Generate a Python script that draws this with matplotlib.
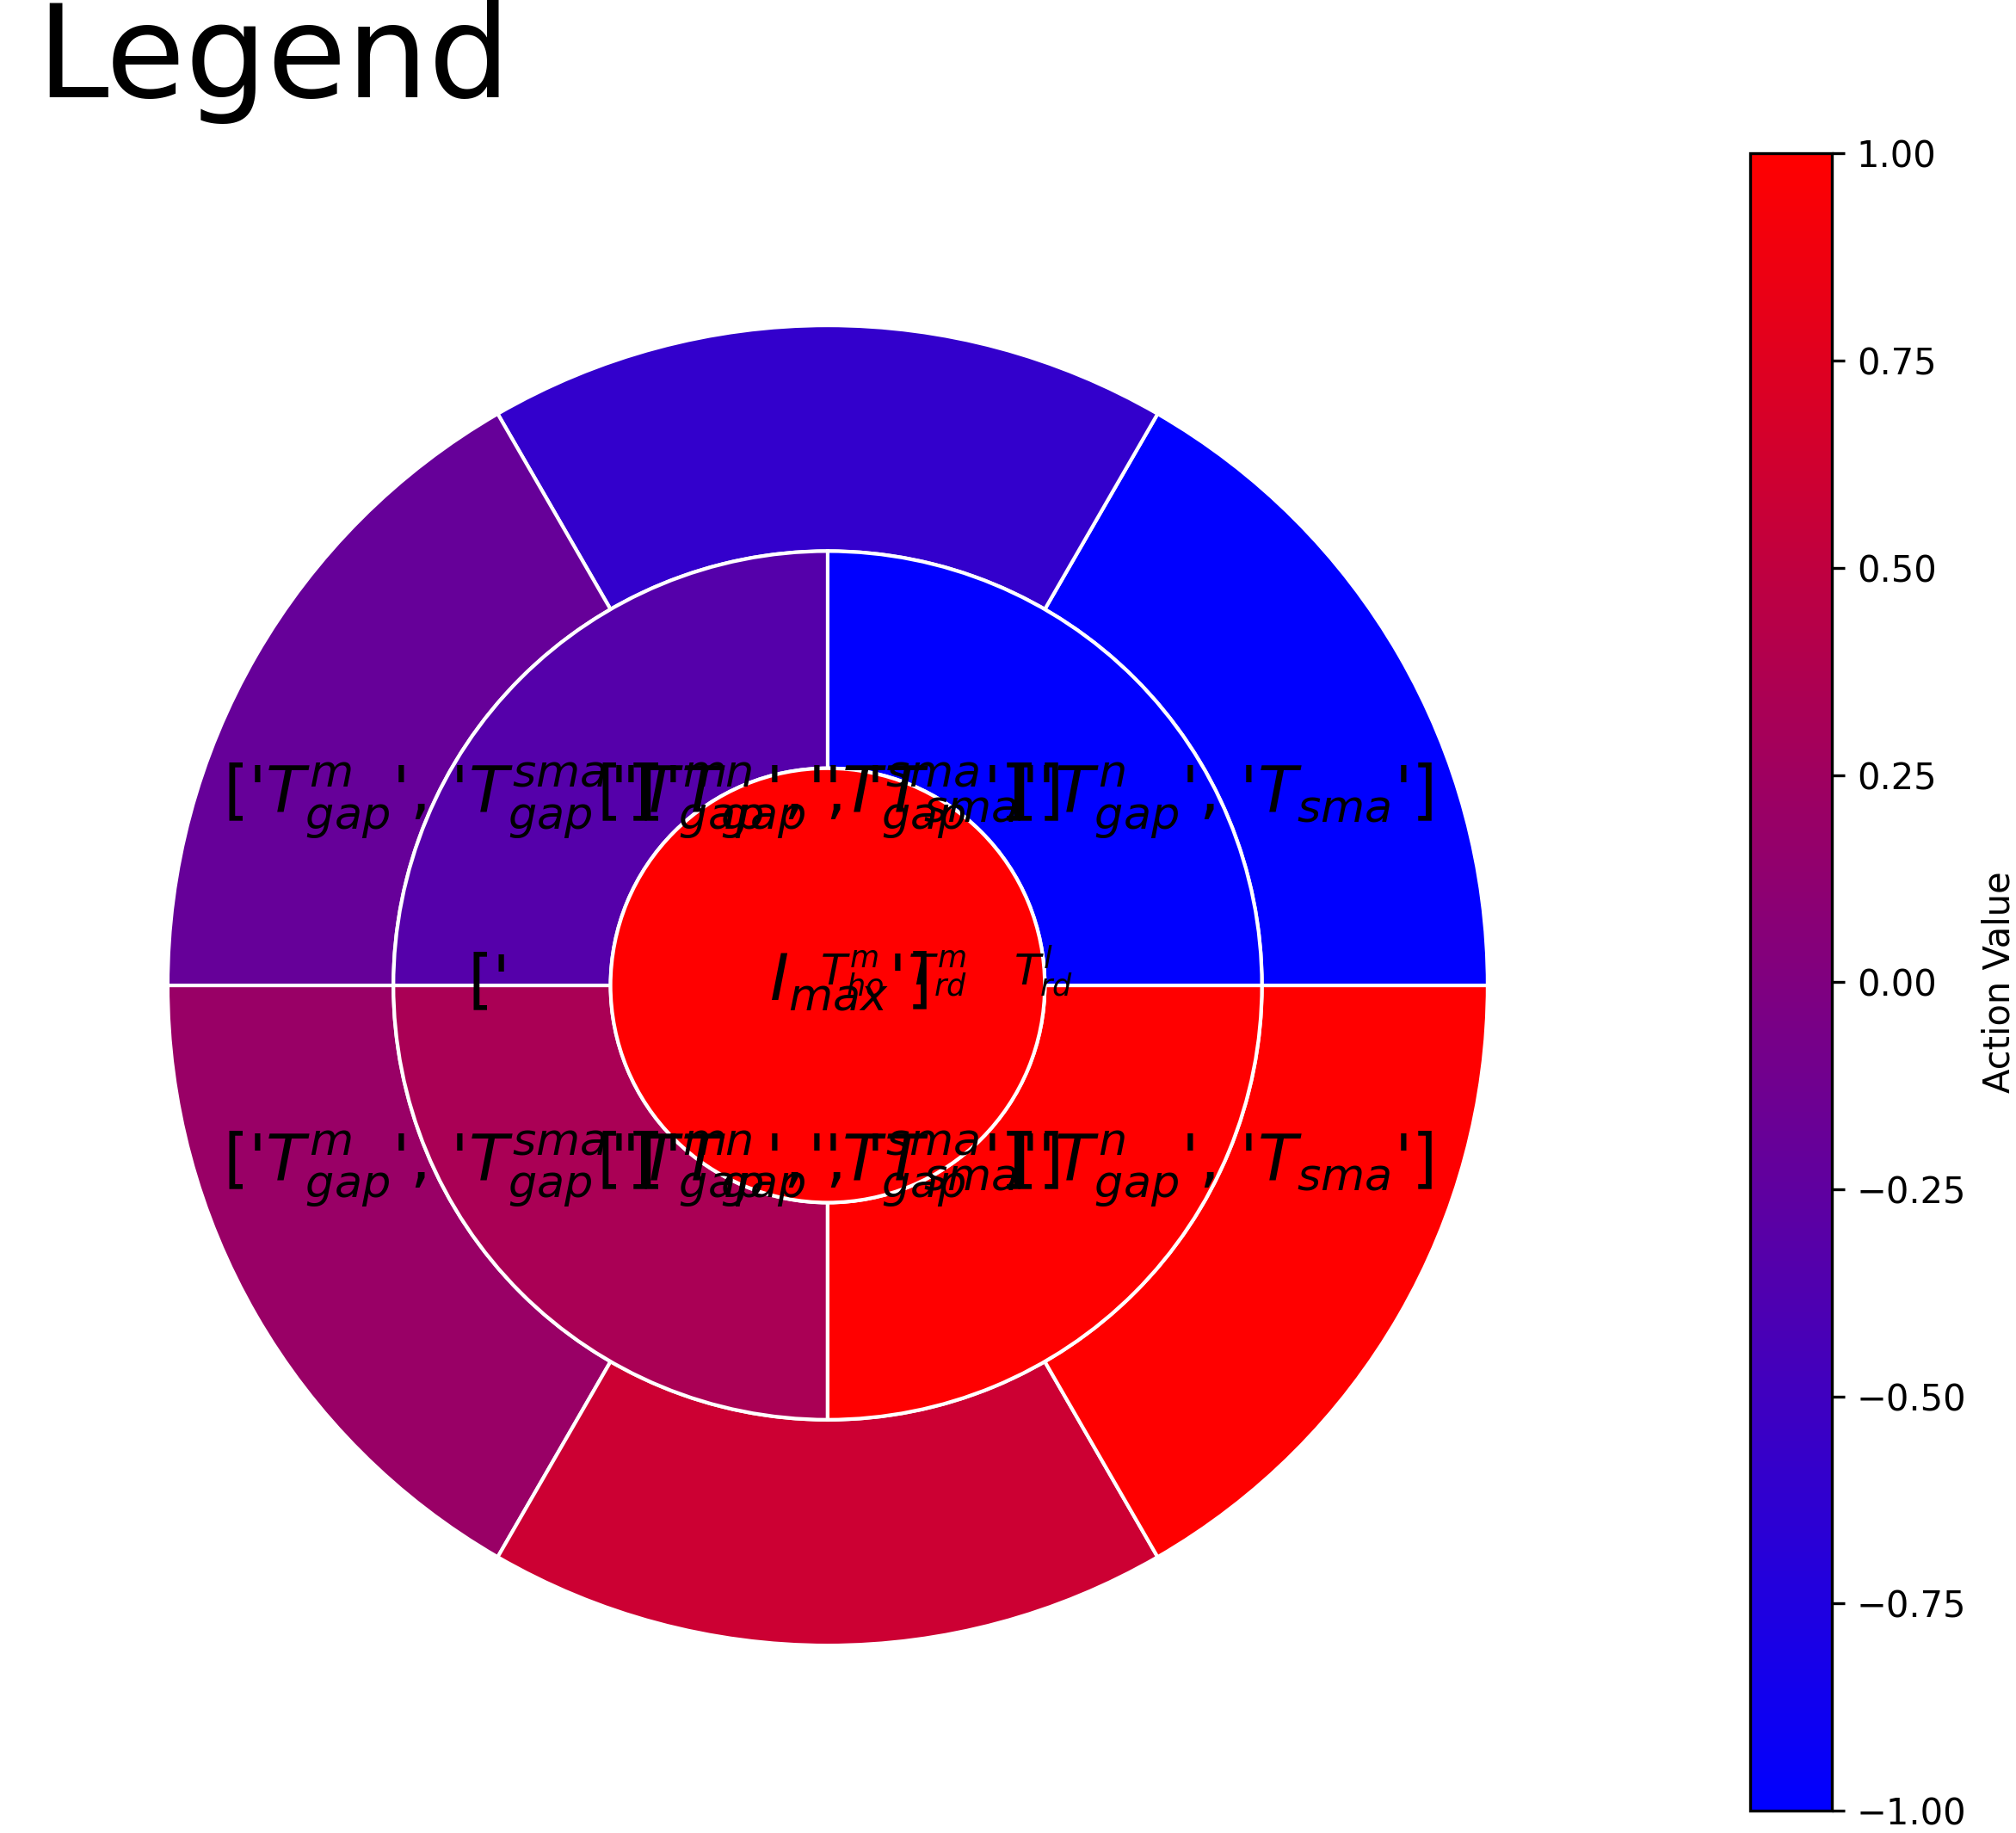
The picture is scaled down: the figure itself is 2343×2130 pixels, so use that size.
import matplotlib
matplotlib.use("Agg")
import matplotlib.pyplot as plt
import numpy as np
from matplotlib.colors import LinearSegmentedColormap, Normalize
from matplotlib.cm import ScalarMappable

# ring data: every wedge has the same size, colour comes from its action value
outer_sizes = [1, 1, 1, 1, 1, 1]
outer_values = [-1.0, -0.6, -0.2, 0.2, 0.6, 1.0]
middle_sizes = [1, 1, 1, 1]
middle_values = [-1.0, -1 / 3, 1 / 3, 1.0]
inner_sizes = [1]
inner_values = [1.0]

# labels of the middle ring wedges (counter-clockwise from 0 deg)
middle_labels = ["['$T^n_{gap}$', '$T_{sma}$']",
                 "['$T^m_{gap}$', '$T^{sma}_{gap}$']",
                 "['$T^m_{gap}$', '$T^{sma}_{gap}$']",
                 "['$T^n_{gap}$', '$T_{sma}$']"]
# labels around the centre
center_big = ["['", "$I_{max}$']"]
center_small = ["$T^m_{ho}$", "$T^m_{rd}$", "$T^l_{rd}$"]

cb_ticks = [-1.0, -0.75, -0.5, -0.25, 0.0, 0.25, 0.5, 0.75, 1.0]

cmap = LinearSegmentedColormap.from_list("action", ["blue", "red"])
norm = Normalize(vmin=-1, vmax=1)

fig = plt.figure(figsize=(2343 / 300, 2130 / 300), dpi=300)
ax = fig.add_axes([0.0832, 0.1023, 0.6547, 0.7202])

wp = dict(edgecolor="white", linewidth=1)
ax.pie(outer_sizes, radius=1.0, colors=cmap(norm(outer_values)),
       wedgeprops=dict(width=0.342, **wp))
mid_wedges, _ = ax.pie(middle_sizes, radius=0.658, colors=cmap(norm(middle_values)),
                       wedgeprops=dict(width=0.329, **wp))
ax.pie(inner_sizes, radius=0.329, colors=cmap(norm(inner_values)), wedgeprops=wp)
ax.set_xlim(-1, 1)
ax.set_ylim(-1, 1)
ax.set_aspect("equal")
ax.axis("off")

# each middle-ring label shows up twice on its side of the chart
for w, lab in zip(mid_wedges, middle_labels):
    mid = np.deg2rad((w.theta1 + w.theta2) / 2)
    sx = np.sign(np.cos(mid))
    y = 0.279 * np.sign(np.sin(mid))
    ha = "left" if sx < 0 else "right"
    for xpos in (0.917, 0.351):
        ax.text(sx * xpos, y, lab, ha=ha, va="center", fontsize=18)

# centre labels
for xpos, lab in zip([-0.546, -0.088], center_big):
    ax.text(xpos, -0.022, lab, ha="left", va="baseline", fontsize=18)
for xpos, lab in zip([-0.012, 0.122, 0.282], center_small):
    ax.text(xpos, 0.0, lab, ha="left", va="baseline", fontsize=12)

cax = fig.add_axes([0.868, 0.0122, 0.0405, 0.904])
cb = fig.colorbar(ScalarMappable(norm=norm, cmap=cmap), cax=cax)
cb.set_ticks(cb_ticks)
cb.set_label("Action Value")

fig.text(0.018, 0.947, "Legend", fontsize=36, va="baseline")

fig.savefig("out.png", dpi=300)
